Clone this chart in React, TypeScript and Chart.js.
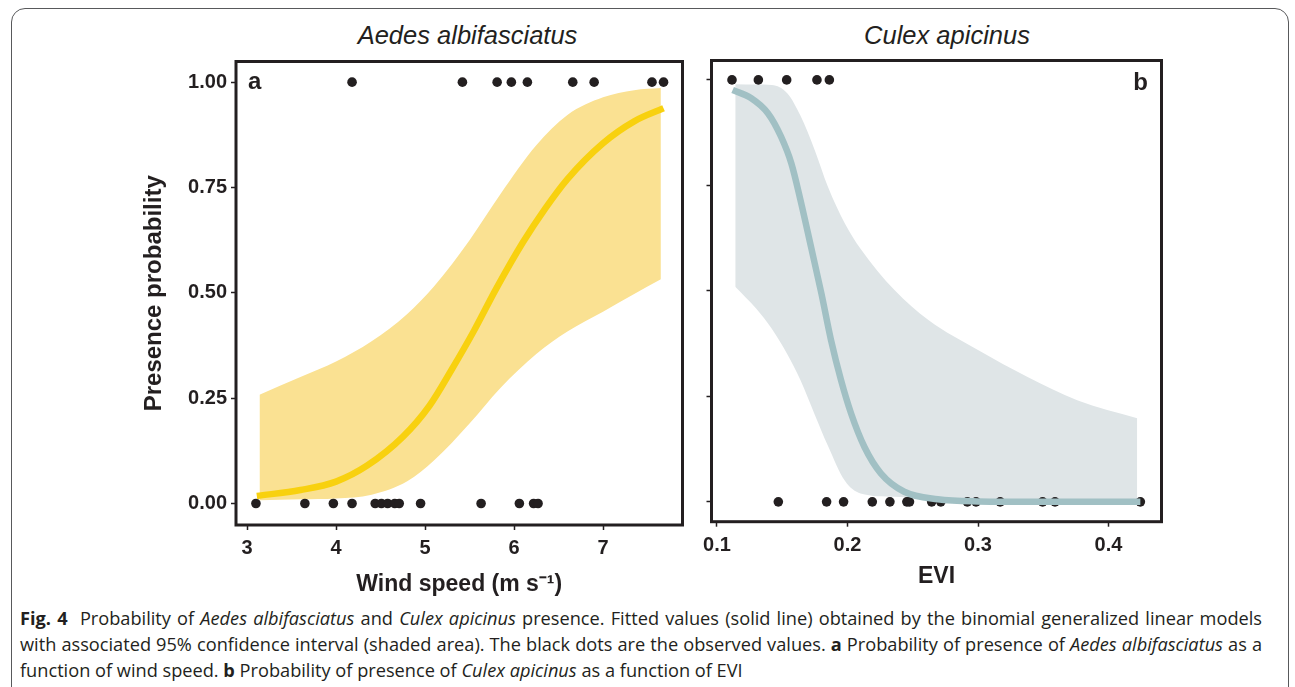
import React, { useEffect, useRef } from 'react';
import { Chart, registerables } from 'chart.js';

Chart.register(...registerables);
Chart.defaults.font.family = '"Liberation Sans", Arial, Helvetica, sans-serif';

// ---------- Panel a: Aedes albifasciatus vs wind speed ----------
const windFitX = [3.11, 3.6, 4.0, 4.35, 4.75, 5.05, 5.3, 5.55, 5.8, 6.1, 6.35, 6.6, 7.0, 7.35, 7.68];
const windFitY = [0.018, 0.032, 0.052, 0.09, 0.158, 0.232, 0.318, 0.41, 0.51, 0.62, 0.7, 0.77, 0.855, 0.907, 0.938];
const windBandX = [3.14, 3.6, 4.0, 4.4, 4.8, 5.1, 5.5, 5.85, 6.25, 6.6, 7.0, 7.35, 7.65];
const windBandUpper = [0.258, 0.3, 0.337, 0.385, 0.45, 0.515, 0.625, 0.735, 0.85, 0.922, 0.964, 0.981, 0.986];
const windBandLower = [0.008, 0.01, 0.012, 0.021, 0.053, 0.102, 0.19, 0.275, 0.355, 0.408, 0.455, 0.497, 0.532];
const windPresentX = [4.18, 5.42, 5.81, 5.97, 6.15, 6.66, 6.9, 7.55, 7.68];
const windAbsentX = [3.1, 3.65, 3.97, 4.18, 4.44, 4.51, 4.58, 4.66, 4.71, 4.95, 5.63, 6.06, 6.22, 6.27];
const windTicks = [3, 4, 5, 6, 7];
const windTickLabels = ['3', '4', '5', '6', '7'];

// ---------- Panel b: Culex apicinus vs EVI ----------
const eviFitX = [0.112, 0.126, 0.139, 0.149, 0.157, 0.164, 0.172, 0.18, 0.1874, 0.195, 0.2027, 0.213, 0.2257, 0.2435, 0.2691, 0.3, 0.351, 0.4244];
const eviFitY = [0.976, 0.957, 0.921, 0.866, 0.802, 0.715, 0.605, 0.494, 0.383, 0.289, 0.21, 0.13, 0.067, 0.024, 0.006, 0.001, 0.0, 0.0];
const eviBandX = [0.114, 0.13, 0.142, 0.154, 0.164, 0.175, 0.185, 0.198, 0.21, 0.236, 0.262, 0.3, 0.338, 0.376, 0.422];
const eviBandUpper = [0.99, 0.989, 0.988, 0.968, 0.915, 0.833, 0.747, 0.66, 0.6, 0.502, 0.431, 0.36, 0.296, 0.241, 0.198];
const eviBandLower = [0.51, 0.458, 0.41, 0.349, 0.288, 0.206, 0.133, 0.05, 0.02, 0.012, 0.009, 0.007, 0.006, 0.005, 0.004];
const eviPresentX = [0.1115, 0.1317, 0.1534, 0.1766, 0.1861];
const eviAbsentX = [0.147, 0.184, 0.197, 0.219, 0.2325, 0.2455, 0.2475, 0.2645, 0.2715, 0.2918, 0.2985, 0.317, 0.3495, 0.359, 0.4244];
const eviTicks = [0.1, 0.2, 0.3, 0.4];
const eviTickLabels = ['0.1', '0.2', '0.3', '0.4'];

// ---------- shared y axis ----------
const probTicks = [0, 0.25, 0.5, 0.75, 1];
const probTickLabels = ['0.00', '0.25', '0.50', '0.75', '1.00'];

const INK = '#231F20';

const panelFrame = {
  id: 'panelFrame',
  afterDatasetsDraw(chart: any, _args: any, opts: any) {
    const { ctx, chartArea: a } = chart;
    ctx.save();
    ctx.strokeStyle = INK;
    ctx.lineWidth = 3;
    ctx.strokeRect(a.left, a.top, a.right - a.left, a.bottom - a.top);
    ctx.font = 'bold 24px "Liberation Sans", Arial, sans-serif';
    ctx.fillStyle = INK;
    ctx.textBaseline = 'alphabetic';
    if (opts.align === 'left') {
      ctx.textAlign = 'left';
      ctx.fillText(opts.letter, a.left + 12, a.top + 27.5);
    } else {
      ctx.textAlign = 'right';
      ctx.fillText(opts.letter, a.right - 13.5, a.top + 29.5);
    }
    ctx.restore();
  },
};

const pts = (xs: number[], ys: number[]) => xs.map((x, i) => ({ x, y: ys[i] }));

function buildConfig(p: any) {
  return {
    type: 'scatter',
    data: {
      datasets: [
        {
          type: 'line',
          label: 'fitted',
          data: pts(p.fitX, p.fitY),
          borderColor: p.lineColor,
          borderWidth: 6.5,
          pointRadius: 0,
          cubicInterpolationMode: 'monotone',
          fill: false,
          order: 0,
        },
        {
          label: 'observed',
          data: [...p.presentX.map((x: number) => ({ x, y: 1 })), ...p.absentX.map((x: number) => ({ x, y: 0 }))],
          pointRadius: 4.8,
          pointBackgroundColor: INK,
          pointBorderWidth: 0,
          order: 1,
        },
        {
          type: 'line',
          label: 'upper',
          data: pts(p.bandX, p.bandUpper),
          borderColor: 'transparent',
          borderWidth: 0,
          pointRadius: 0,
          cubicInterpolationMode: 'monotone',
          fill: false,
          order: 2,
        },
        {
          type: 'line',
          label: 'lower',
          data: pts(p.bandX, p.bandLower),
          borderColor: 'transparent',
          borderWidth: 0,
          pointRadius: 0,
          cubicInterpolationMode: 'monotone',
          fill: 2,
          backgroundColor: p.bandColor,
          order: 3,
        },
      ],
    },
    options: {
      responsive: false,
      animation: false,
      events: [],
      layout: { padding: p.padding },
      plugins: {
        legend: { display: false },
        tooltip: { enabled: false },
        panelFrame: { letter: p.letter, align: p.letterAlign },
      },
      scales: {
        x: {
          type: 'linear',
          min: p.xMin,
          max: p.xMax,
          afterBuildTicks: (s: any) => {
            s.ticks = p.xTicks.map((v: number) => ({ value: v }));
          },
          afterFit: (s: any) => {
            s.height = p.xAxisHeight;
          },
          ticks: {
            autoSkip: false,
            maxRotation: 0,
            padding: p.xTickPadding,
            color: INK,
            font: { size: 20, weight: 'bold' },
            callback: (_v: any, i: number) => p.xTickLabels[i],
          },
          grid: { display: true, drawOnChartArea: false, drawTicks: true, tickLength: 5, tickColor: INK, tickWidth: 1.5 },
          border: { display: false },
          title: { display: true, text: p.xTitle, color: INK, font: { size: 23, weight: 'bold' }, padding: 0 },
        },
        y: {
          type: 'linear',
          min: p.yMin,
          max: p.yMax,
          afterBuildTicks: (s: any) => {
            s.ticks = probTicks.map((v) => ({ value: v }));
          },
          afterFit: (s: any) => {
            s.width = p.yAxisWidth;
          },
          ticks: {
            autoSkip: false,
            padding: 4,
            color: INK,
            font: { size: 20, weight: 'bold' },
            callback: (_v: any, i: number) => (p.showYLabels ? probTickLabels[i] : ''),
          },
          grid: { display: true, drawOnChartArea: false, drawTicks: true, tickLength: 5, tickColor: INK, tickWidth: 1.5 },
          border: { display: false },
          title: { display: p.showYLabels, text: 'Presence probability', color: INK, font: { size: 24, weight: 'bold' }, padding: 0 },
        },
      },
    },
    plugins: [panelFrame],
  };
}

const panelA = {
  fitX: windFitX, fitY: windFitY, bandX: windBandX, bandUpper: windBandUpper, bandLower: windBandLower,
  presentX: windPresentX, absentX: windAbsentX, xTicks: windTicks, xTickLabels: windTickLabels,
  lineColor: '#F8D10F', bandColor: '#FAE192',
  xMin: 2.876, xMax: 7.893, yMin: -0.051, yMax: 1.049,
  padding: { left: 139.6, right: 7.5, top: 61.5, bottom: 1.2 },
  xAxisHeight: 73.8, yAxisWidth: 96.4, xTickPadding: 6,
  xTitle: 'Wind speed (m s\u207B\u00B9)', showYLabels: true, letter: 'a', letterAlign: 'left',
};

const panelB = {
  fitX: eviFitX, fitY: eviFitY, bandX: eviBandX, bandUpper: eviBandUpper, bandLower: eviBandLower,
  presentX: eviPresentX, absentX: eviAbsentX, xTicks: eviTicks, xTickLabels: eviTickLabels,
  lineColor: '#A1C0C4', bandColor: '#DFE5E7',
  xMin: 0.0958, xMax: 0.4406, yMin: -0.047, yMax: 1.046,
  padding: { left: 11.5, right: 8.5, top: 60.5, bottom: 9.2 },
  xAxisHeight: 69.1, yAxisWidth: 10, xTickPadding: 7,
  xTitle: 'EVI', showYLabels: false, letter: 'b', letterAlign: 'right',
};

function Panel({ cfg, left, width }: { cfg: any; left: number; width: number }) {
  const ref = useRef<HTMLCanvasElement | null>(null);
  useEffect(() => {
    if (!ref.current) return;
    const chart = new Chart(ref.current, buildConfig(cfg) as any);
    return () => chart.destroy();
  }, [cfg]);
  return (
    <canvas
      ref={ref}
      width={width}
      height={600}
      style={{ position: 'absolute', left, top: 0, width, height: 600 }}
    />
  );
}

const titleStyle: React.CSSProperties = {
  position: 'absolute',
  top: 22.5,
  width: 400,
  textAlign: 'center',
  fontFamily: '"Liberation Sans", Arial, sans-serif',
  fontStyle: 'italic',
  fontSize: 25.5,
  lineHeight: '25.5px',
  color: INK,
  whiteSpace: 'nowrap',
};

const justified: React.CSSProperties = { textAlign: 'justify', textAlignLast: 'justify' as any };

export default function App() {
  return (
    <div style={{ position: 'fixed', left: 0, top: 0, width: 1295, height: 687, overflow: 'hidden', background: '#fff' }}>
      <div
        style={{
          position: 'absolute',
          left: 11,
          top: 8,
          width: 1278,
          height: 800,
          border: '1.5px solid #58595B',
          borderRadius: 14,
          boxSizing: 'border-box',
        }}
      />
      <div style={{ ...titleStyle, left: 267.5 }}>Aedes albifasciatus</div>
      <div style={{ ...titleStyle, left: 747 }}>Culex apicinus</div>
      <Panel cfg={panelA} left={0} width={690} />
      <Panel cfg={panelB} left={690} width={480} />
      <div
        style={{
          position: 'absolute',
          left: 20,
          top: 605,
          width: 1242,
          fontFamily: '"Open Sans", "Noto Sans", sans-serif',
          fontSize: 18.2,
          lineHeight: '26px',
          color: INK,
        }}
      >
        <div style={justified}>
          <b>Fig. 4</b>&nbsp;&nbsp;Probability of <i>Aedes albifasciatus</i> and <i>Culex apicinus</i> presence. Fitted values (solid line) obtained by the binomial generalized linear models
        </div>
        <div style={justified}>
          with associated 95% confidence interval (shaded area). The black dots are the observed values. <b>a</b> Probability of presence of <i>Aedes albifasciatus</i> as a
        </div>
        <div style={{ whiteSpace: 'nowrap' }}>
          function of wind speed. <b>b</b> Probability of presence of <i>Culex apicinus</i> as a function of EVI
        </div>
      </div>
    </div>
  );
}
